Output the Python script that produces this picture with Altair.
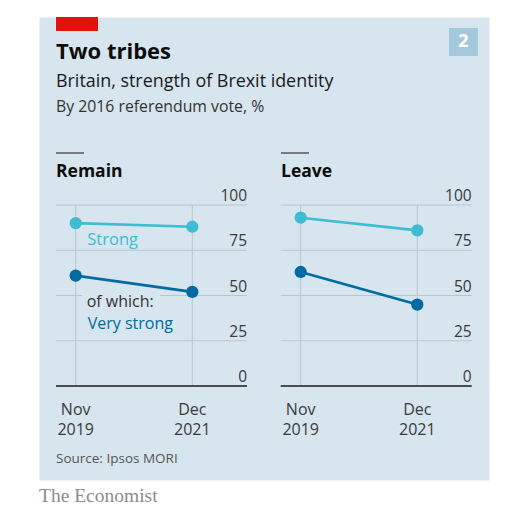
import altair as alt
import pandas as pd

# ---- data ----
months = ["Nov 2019", "Dec 2021"]
remain_strong = [90, 88]
remain_very_strong = [61, 52]
leave_strong = [93, 86]
leave_very_strong = [63, 45]
y_ticks = [0, 25, 50, 75, 100]
series_names = ["Strong", "Very strong"]
series_colors = ["#3ebcd2", "#006ba2"]

title_text = "Two tribes"
subtitle_text = "Britain, strength of Brexit identity"
subtitle2_text = "By 2016 referendum vote, %"
panel_titles = ["Remain", "Leave"]
source_text = "Source: Ipsos MORI"
brand_text = "The Economist"

BG = "#d6e5ee"
GRID = "#b7c6cf"
FONT = "Open Sans"

yscale = alt.Scale(domain=[0, 100], range=[369, 188])
cscale = alt.Scale(domain=series_names, range=series_colors)


def one(text):
    return pd.DataFrame({"t": [text]})


def label(text, x, y, size, color, weight="normal", font=FONT, align="left",
          baseline="alphabetic"):
    return alt.Chart(one(text)).mark_text(
        align=align, baseline=baseline, fontSize=size, font=font,
        fontWeight=weight, color=color
    ).encode(x=alt.value(x), y=alt.value(y), text="t:N")


def box(x, x2, y, y2, color):
    return alt.Chart(one("")).mark_rect(color=color).encode(
        x=alt.value(x), x2=alt.value(x2), y=alt.value(y), y2=alt.value(y2))


def panel_df(strong, very):
    rows = []
    for m, s, v in zip(months, strong, very):
        rows.append({"month": m, "series": series_names[0], "value": s})
        rows.append({"month": m, "series": series_names[1], "value": v})
    return pd.DataFrame(rows)


def panel(df, xrange, gx0, gx1):
    X = alt.X("month:N", scale=alt.Scale(type="point", domain=months,
                                         range=xrange, padding=0), axis=None)
    ticks_df = pd.DataFrame({"tick": y_ticks})
    grid_df = pd.DataFrame({"tick": y_ticks[1:]})
    months_df = pd.DataFrame({"month": months})
    hgrid = alt.Chart(grid_df).mark_rule(color=GRID, strokeWidth=1).encode(
        y=alt.Y("tick:Q", scale=yscale, axis=None),
        x=alt.value(gx0), x2=alt.value(gx1))
    vgrid = alt.Chart(months_df).mark_rule(color=GRID, strokeWidth=1).encode(
        x=X, y=alt.value(188), y2=alt.value(369))
    zero = alt.Chart(one("")).mark_rule(color="#1a1a1a", strokeWidth=1.6).encode(
        y=alt.value(369), x=alt.value(gx0), x2=alt.value(gx1))
    ylabels = alt.Chart(ticks_df).mark_text(
        align="right", baseline="alphabetic", dy=-4, fontSize=15.5, font=FONT,
        color="#3a3a3a").encode(
        y=alt.Y("tick:Q", scale=yscale, axis=None), x=alt.value(gx1),
        text="tick:Q")
    lines = alt.Chart(df).mark_line(strokeWidth=2.6).encode(
        x=X, y=alt.Y("value:Q", scale=yscale, axis=None),
        color=alt.Color("series:N", scale=cscale, legend=None),
        detail="series:N")
    pts = alt.Chart(df).mark_circle(size=150, opacity=1).encode(
        x=X, y=alt.Y("value:Q", scale=yscale, axis=None),
        color=alt.Color("series:N", scale=cscale, legend=None))
    xlabels = alt.Chart(months_df).mark_text(
        align="center", baseline="alphabetic", fontSize=16, font=FONT,
        color="#3a3a3a", lineBreak=" ", lineHeight=20).encode(
        x=X, y=alt.value(398), text="month:N")
    return [hgrid, vgrid, zero, ylabels, lines, pts, xlabels]


remain = panel(panel_df(remain_strong, remain_very_strong), [36.7, 153.3], 17, 208)
leave = panel(panel_df(leave_strong, leave_very_strong), [261.7, 378.3], 241.7, 432.7)

short_rules = [
    alt.Chart(one("")).mark_rule(color="#333333", strokeWidth=1.2).encode(
        x=alt.value(x0), x2=alt.value(x0 + 28), y=alt.value(136))
    for x0 in (17, 242)
]

chart = alt.layer(
    box(17, 59, 0, 14, "#e3120b"),
    box(410, 439, 11, 39, "#a5c8dc"),
    label("2", 424.5, 25, 18, "white", weight="bold", align="center",
          baseline="middle"),
    label(title_text, 17, 41.7, 22, "#0d0d0d", weight="bold"),
    label(subtitle_text, 17, 70.3, 17.9, "#1a1a1a"),
    label(subtitle2_text, 17, 94.7, 15.8, "#333333"),
    *short_rules,
    label(panel_titles[0], 17, 159.7, 17.5, "#0d0d0d", weight="bold"),
    label(panel_titles[1], 242, 159.7, 17.5, "#0d0d0d", weight="bold"),
    *remain,
    *leave,
    box(43, 121, 276, 281, BG),
    label("Strong", 48.3, 228, 16.5, series_colors[0]),
    label("of which:", 47.7, 289.8, 16, "#333333"),
    label("Very strong", 48.7, 312.2, 16, series_colors[1]),
    label(source_text, 17, 446, 13.5, "#555555"),
    label(brand_text, 0, 484.7, 19.5, "#8c8c8c", font="Liberation Serif"),
).resolve_scale(x="independent").properties(
    width=450, height=463,
    padding={"left": 31, "top": 9, "right": 20, "bottom": 30},
    autosize=alt.AutoSizeParams(type="none"),
    background="white",
).configure_view(fill=BG, stroke="transparent")

chart.save("out.html", embed_options={"renderer": "svg", "actions": False})
